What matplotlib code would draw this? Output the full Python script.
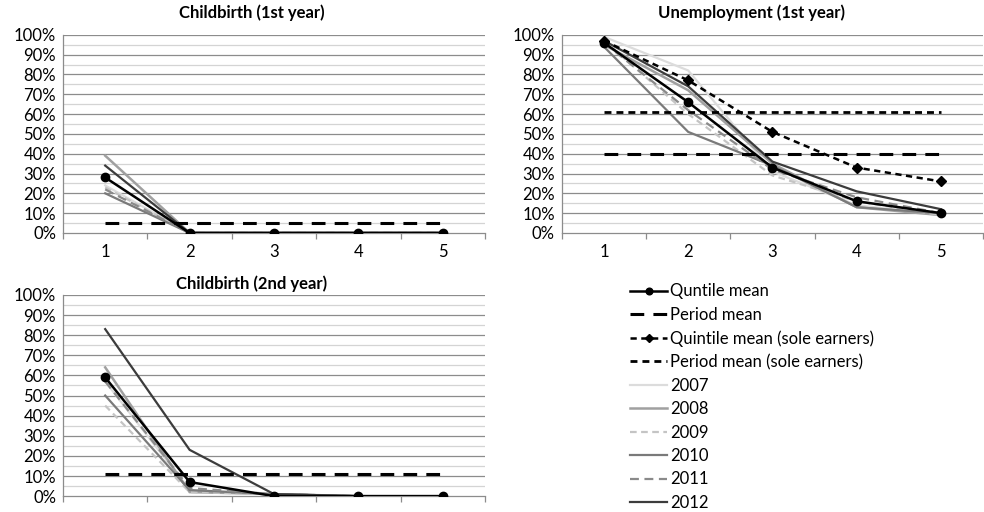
import matplotlib
matplotlib.use("Agg")
import matplotlib.pyplot as plt
import numpy as np

plt.rcParams['font.family'] = ['Lato', 'DejaVu Sans']

quintiles = [1, 2, 3, 4, 5]
years = ['2007', '2008', '2009', '2010', '2011', '2012']

# Childbirth, first year (shares, %)
cb1_quintile_mean = [28, 0, 0, 0, 0]
cb1_period_mean = 5
cb1_years = {
    '2007': [24, 0, 0, 0, 0],
    '2008': [39, 0, 0, 0, 0],
    '2009': [23, 0, 0, 0, 0],
    '2010': [20, 0, 0, 0, 0],
    '2011': [22, 0, 0, 0, 0],
    '2012': [34, 0, 0, 0, 0],
}

# Unemployment, first year
un_quintile_mean = [96, 66, 33, 16, 10]
un_period_mean = 40
un_sole_quintile_mean = [97, 77, 51, 33, 26]
un_sole_period_mean = 61
un_years = {
    '2007': [99, 82, 31, 14, 9],
    '2008': [95, 72, 35, 13, 9],
    '2009': [97, 60, 29, 16, 9],
    '2010': [94, 51, 34, 13, 10],
    '2011': [96, 62, 32, 18, 10],
    '2012': [97, 74, 36, 21, 12],
}

# Childbirth, second year
cb2_quintile_mean = [59, 7, 0, 0, 0]
cb2_period_mean = 11
cb2_years = {
    '2007': [57, 3, 1, 0, 0],
    '2008': [64, 2, 1, 0, 0],
    '2009': [45, 2, 1, 0, 0],
    '2010': [50, 3, 1, 0, 0],
    '2011': [57, 4, 1, 0, 0],
    '2012': [83, 23, 1, 0, 0],
}

year_style = {
    '2007': dict(color='#dcdcdc', lw=1.6, ls='-'),
    '2008': dict(color='#a0a0a0', lw=1.8, ls='-'),
    '2009': dict(color='#c4c4c4', lw=1.6, ls=(0, (3, 2))),
    '2010': dict(color='#7a7a7a', lw=1.6, ls='-'),
    '2011': dict(color='#8a8a8a', lw=1.6, ls=(0, (4, 2.5))),
    '2012': dict(color='#3c3c3c', lw=1.6, ls='-'),
}

FS = 12

fig = plt.figure(figsize=(9.84, 5.12), dpi=100)

def panel(rect, title, tx, ty, yearly, qmean, pmean, sole_q=None, sole_p=None, xlabels=True):
    ax = fig.add_axes(rect)
    ax.set_xlim(0.5, 5.5)
    ax.set_ylim(0, 100)
    for v in range(5, 100, 10):
        ax.axhline(v, color='#d4d4d4', lw=0.9, zorder=0)
    for v in range(10, 101, 10):
        ax.axhline(v, color='#8c8c8c', lw=0.9, zorder=0)
    handles = {}
    for y in years:
        h, = ax.plot(quintiles, yearly[y], zorder=2, solid_joinstyle='miter', **year_style[y])
        handles[y] = h
    h, = ax.plot(quintiles, [pmean] * 5, color='black', lw=2.2, ls=(0, (4.5, 3)), zorder=3)
    handles['pm'] = h
    if sole_p is not None:
        h, = ax.plot(quintiles, [sole_p] * 5, color='black', lw=2.0, ls=(0, (2.5, 1.8)), zorder=3)
        handles['spm'] = h
        h, = ax.plot(quintiles, sole_q, color='black', lw=1.8, ls=(0, (2.5, 1.8)),
                     marker='D', ms=5, zorder=4)
        handles['sqm'] = h
    h, = ax.plot(quintiles, qmean, color='black', lw=1.8, marker='o', ms=6, zorder=5)
    handles['qm'] = h

    ax.set_yticks(range(0, 101, 10))
    ax.set_yticklabels([f'{v}%' for v in range(0, 101, 10)], fontsize=FS)
    ax.tick_params(axis='y', length=0, pad=5)
    ax.set_xticks(np.arange(0.5, 6, 1))
    ax.set_xticklabels([])
    ax.set_xticks(quintiles, minor=True)
    if xlabels:
        ax.set_xticklabels([str(q) for q in quintiles], minor=True, fontsize=FS)
    ax.tick_params(axis='x', which='major', length=4, color='#8c8c8c', width=0.9)
    ax.tick_params(axis='x', which='minor', length=0, pad=8)
    for s in ['top', 'right']:
        ax.spines[s].set_visible(False)
    for s in ['left', 'bottom']:
        ax.spines[s].set_color('#8c8c8c')
        ax.spines[s].set_linewidth(0.9)
    fig.text(tx, ty, title, ha='center', va='center', fontsize=12, fontweight='bold')
    return handles

panel([0.064, 0.545, 0.429, 0.387], 'Childbirth (1st year)', 252 / 984, 1 - 13 / 512,
      cb1_years, cb1_quintile_mean, cb1_period_mean)
hs = panel([0.571, 0.545, 0.428, 0.387], 'Unemployment (1st year)', 752 / 984, 1 - 13 / 512,
           un_years, un_quintile_mean, un_period_mean, un_sole_quintile_mean, un_sole_period_mean)
panel([0.064, 0.031, 0.429, 0.393], 'Childbirth (2nd year)', 252 / 984, 1 - 284 / 512,
      cb2_years, cb2_quintile_mean, cb2_period_mean, xlabels=False)

order = [('qm', 'Quntile mean'), ('pm', 'Period mean'),
         ('sqm', 'Quintile mean (sole earners)'), ('spm', 'Period mean (sole earners)')] + \
        [(y, y) for y in years]
fig.legend([hs[k] for k, _ in order], [lab for _, lab in order],
           loc='upper left', bbox_to_anchor=(622 / 984, 1 - 275 / 512),
           frameon=False, fontsize=FS, handlelength=2.2, handletextpad=0.2,
           labelspacing=0.445, borderpad=0, markerscale=0.8)

fig.savefig('out.png', dpi=100)
